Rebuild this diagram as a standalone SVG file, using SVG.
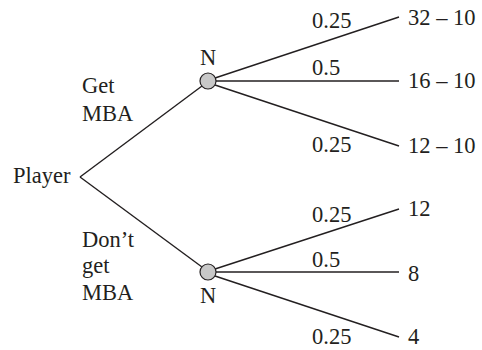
<svg xmlns="http://www.w3.org/2000/svg" width="482" height="350" viewBox="0 0 482 350">
<style>
text{font-family:'Liberation Serif','Times New Roman',serif;font-size:22.5px;fill:#231f20}
.e{stroke:#231f20;stroke-width:1.4;fill:none}
.n{fill:#c8c8c8;stroke:#231f20;stroke-width:1.2}
</style>
<rect width="482" height="350" fill="#fff"/>
<g id="edges">
<line class="e" x1="80" y1="177" x2="202" y2="86"/>
<line class="e" x1="80" y1="177" x2="202" y2="267"/>
<line class="e" x1="215" y1="78" x2="399" y2="17"/>
<line class="e" x1="216" y1="81" x2="399" y2="81"/>
<line class="e" x1="215" y1="85" x2="399" y2="146"/>
<line class="e" x1="215" y1="269" x2="399" y2="209"/>
<line class="e" x1="216" y1="272" x2="399" y2="272"/>
<line class="e" x1="215" y1="276" x2="399" y2="337"/>
<text x="312" y="28">0.25</text>
<text x="312" y="75">0.5</text>
<text x="312" y="152">0.25</text>
<text x="312" y="222">0.25</text>
<text x="312" y="267">0.5</text>
<text x="312" y="344">0.25</text>
<text x="82" y="93">Get</text>
<text x="82" y="121">MBA</text>
<text x="82" y="247">Don’t</text>
<text x="82" y="273">get</text>
<text x="82" y="300">MBA</text>
</g>
<g id="player"><text x="13" y="183">Player</text></g>
<g id="n1"><circle class="n" cx="208" cy="81" r="8"/><text x="208" y="65" text-anchor="middle">N</text></g>
<g id="n2"><circle class="n" cx="208" cy="272" r="8"/><text x="208" y="303" text-anchor="middle">N</text></g>
<g id="t1"><text x="408" y="25">32 – 10</text></g>
<g id="t2"><text x="408" y="88">16 – 10</text></g>
<g id="t3"><text x="408" y="153">12 – 10</text></g>
<g id="t4"><text x="408" y="216">12</text></g>
<g id="t5"><text x="408" y="281">8</text></g>
<g id="t6"><text x="408" y="344">4</text></g>
</svg>
